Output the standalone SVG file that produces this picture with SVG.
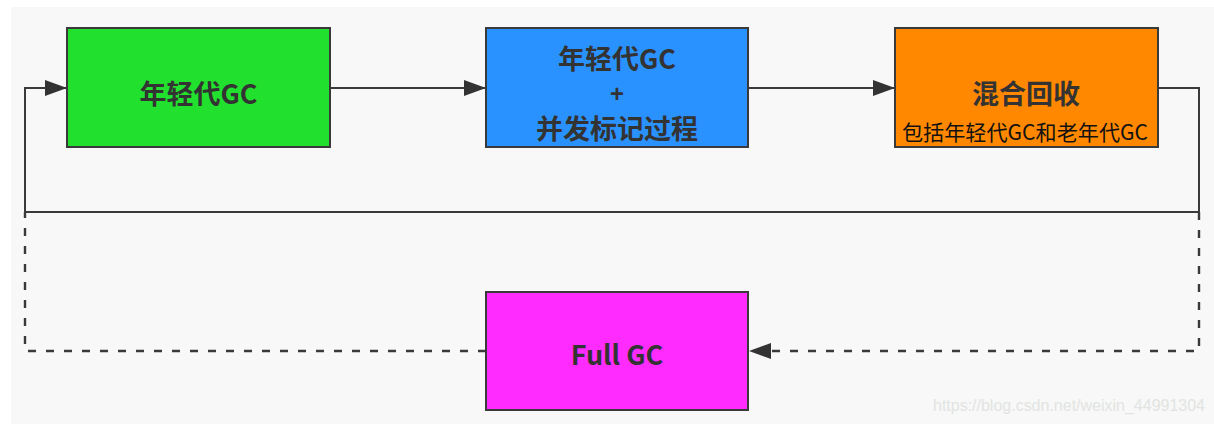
<svg xmlns="http://www.w3.org/2000/svg" width="1214" height="424" viewBox="0 0 1214 424">
<style>
.box{stroke:#3a3a3a;stroke-width:2}
.t{font-family:"Noto Sans CJK SC","Noto Sans",sans-serif;font-weight:bold;font-size:27px;fill:#333;text-anchor:middle;dominant-baseline:central}
.plus{font-family:"Liberation Sans",Arial,sans-serif;font-weight:bold;font-size:24px;fill:#333;text-anchor:middle;dominant-baseline:central}
.sub{font-family:"Noto Sans CJK SC","Noto Sans",sans-serif;font-size:21px;fill:#111;text-anchor:middle;dominant-baseline:central}
.ln{fill:none;stroke:#3a3a3a;stroke-width:2}
.dash{stroke-dasharray:8 10;stroke-width:2.4}
</style>
<defs>
<marker id="arr" markerWidth="22" markerHeight="16" refX="22" refY="8" orient="auto" markerUnits="userSpaceOnUse">
<path d="M0,0 L22,8 L0,16 Z" fill="#333"/>
</marker>
</defs>
<rect x="0" y="0" width="1214" height="424" fill="#ffffff"/>
<rect x="11" y="7" width="1203" height="417" fill="#f7f8f7"/>
<g id="connectors">
<path class="ln" d="M330,88 H486" marker-end="url(#arr)"/>
<path class="ln" d="M748,88 H895" marker-end="url(#arr)"/>
<path class="ln" d="M1158,88 H1199 V212 H25 V88 H67" marker-end="url(#arr)"/>
<path class="ln dash" d="M1199,212 V351 H749" marker-end="url(#arr)"/>
<path class="ln dash" d="M486,351 H25 V212"/>
</g>
<g id="young">
<rect class="box" x="67" y="28" width="263" height="119" fill="#22e02e"/>
<text class="t" x="198.5" y="92">年轻代GC</text>
</g>
<g id="concurrent">
<rect class="box" x="486" y="28" width="262" height="119" fill="#2a92ff"/>
<text class="t" x="617" y="57">年轻代GC</text>
<text class="plus" x="617" y="93">+</text>
<text class="t" x="617" y="127">并发标记过程</text>
</g>
<g id="mixed">
<rect class="box" x="895" y="28" width="263" height="119" fill="#ff8800"/>
<text class="t" x="1026" y="92">混合回收</text>
<text class="sub" x="1025" y="131" textLength="246" lengthAdjust="spacingAndGlyphs">包括年轻代GC和老年代GC</text>
</g>
<g id="full">
<rect class="box" x="486" y="292" width="262" height="118" fill="#ff2bff"/>
<text class="t" x="617" y="353">Full GC</text>
</g>
<text x="933" y="411" font-family="Liberation Sans, Arial, sans-serif" font-size="16" fill="#e2e4e2" textLength="272">https://blog.csdn.net/weixin_44991304</text>
</svg>
